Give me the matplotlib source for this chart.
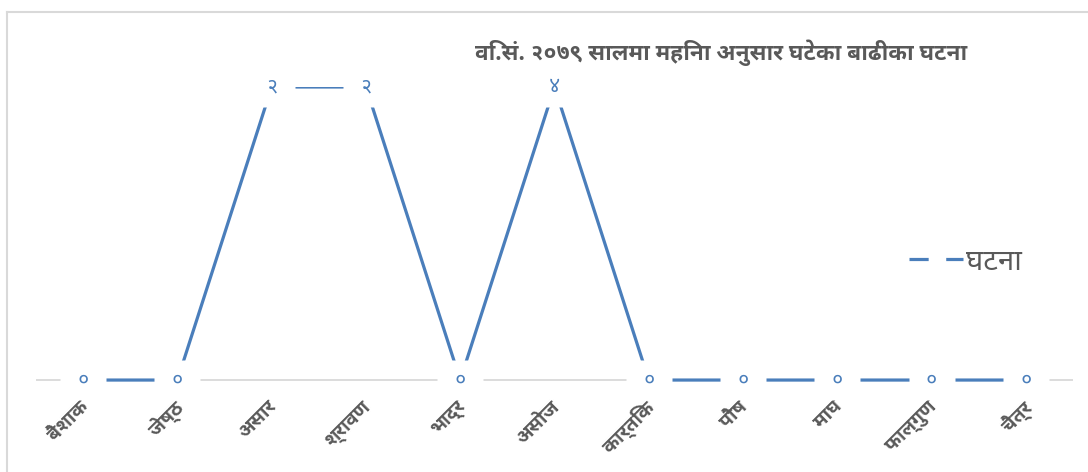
import matplotlib
matplotlib.use('Agg')
import matplotlib.pyplot as plt
import matplotlib.transforms as mtransforms
from matplotlib.path import Path
from matplotlib.lines import Line2D

# Data
months = ['बैशाक', 'जेष्ठ', 'असार', 'श्रावण', 'भाद्र', 'असोज',
          'कार्तिक', 'पौष', 'माघ', 'फाल्गुण', 'चैत्र']
events = [0, 0, 2, 2, 0, 2, 0, 0, 0, 0, 0]   # plotted heights
event_labels = ['०', '०', '२', '२', '०', '४', '०', '०', '०', '०', '०']
title = 'वि.सं. २०७९ सालमा महिना अनुसार घटेका बाढीका घटना'
series_name = 'घटना'

plt.rcParams['font.family'] = ['Noto Sans Devanagari UI', 'Noto Sans Devanagari',
                               'Mukta', 'DejaVu Sans']

blue = '#4A7EBB'
grey_txt = '#595959'
grid_col = '#D9D9D9'

fig = plt.figure(figsize=(10.88, 4.72), dpi=100)
ax = fig.add_axes([36 / 1088, 48 / 472, 1037 / 1088, 337 / 472])

x = list(range(len(months)))
ax.axhline(0, color=grid_col, lw=1.3, zorder=1)
ax.plot(x, events, color=blue, lw=2.3, zorder=2, solid_capstyle='butt')

# white boxes behind the data labels (they cut the line like Excel's labels)
box = Path([(-23, -20), (23, -20), (23, 20), (-23, 20), (-23, -20)],
           [Path.MOVETO, Path.LINETO, Path.LINETO, Path.LINETO, Path.CLOSEPOLY])
ax.plot(x, events, ls='none', marker=box, markersize=33, markerfacecolor='white',
        markeredgecolor='none', zorder=3, clip_on=False)
for xi, yi, lab in zip(x, events, event_labels):
    ax.text(xi, yi, lab, color=blue, fontsize=15, ha='center', va='center',
            zorder=4, clip_on=False)

ax.set_xlim(-0.5, len(months) - 0.5)
ax.set_ylim(-0.3, 2)
ax.set_yticks([])
for s in ['top', 'right', 'left']:
    ax.spines[s].set_visible(False)
ax.spines['bottom'].set_position(('data', 0))
ax.spines['bottom'].set_visible(False)
ax.set_xticks(x)
ax.set_xticklabels(months, rotation=45, ha='right', va='top', rotation_mode='anchor',
                   fontsize=14, fontweight='bold', color=grey_txt)
ax.tick_params(axis='x', length=0, pad=12)
shift = mtransforms.ScaledTranslation(-5 / 100, 0, fig.dpi_scale_trans)
for lbl in ax.get_xticklabels():
    lbl.set_transform(lbl.get_transform() + shift)

handle = Line2D([], [], color=blue, lw=2.3, dashes=(6, 5.5))
leg = ax.legend([handle], [series_name], loc='center left', frameon=False,
                bbox_to_anchor=(909 / 1088, 1 - 262 / 472), bbox_transform=fig.transFigure,
                borderpad=0, borderaxespad=0, handlelength=1.85, handletextpad=0.1,
                fontsize=21)
for t in leg.get_texts():
    t.set_color(grey_txt)

fig.text(721 / 1088, 1 - 53 / 472, title, ha='center', va='center',
         fontsize=16.3, fontweight='bold', color=grey_txt)

# outer chart border (only top and left visible in the crop)
fig.add_artist(Line2D([7 / 1088, 1], [1 - 12 / 472, 1 - 12 / 472],
                      transform=fig.transFigure, color=grid_col, lw=1.5))
fig.add_artist(Line2D([7 / 1088, 7 / 1088], [0, 1 - 12 / 472],
                      transform=fig.transFigure, color=grid_col, lw=1.5))

fig.savefig('out.png', dpi=100)
